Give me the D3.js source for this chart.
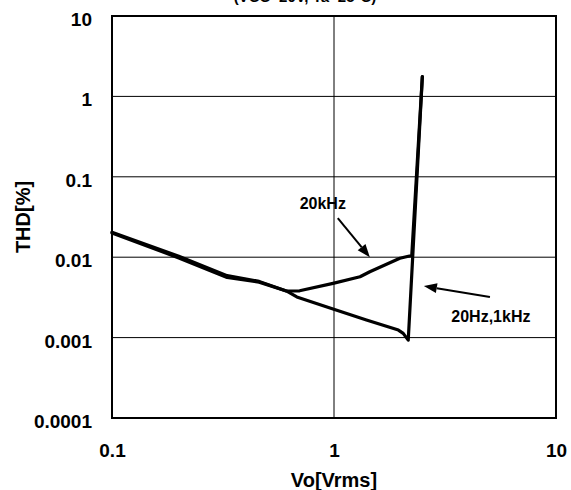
<!DOCTYPE html>
<html>
<head>
<meta charset="UTF-8">
<title>THD vs Vo</title>
<script src="https://d3js.org/d3.v7.min.js"></script>
<style>
  body { margin: 0; background: #fff; }
  text { font-family: "Liberation Sans", Arial, sans-serif; font-weight: bold; fill: #000; }
</style>
</head>
<body>
<svg id="mainsvg" width="571" height="490"></svg>
<script>
// data
const xTicks = [0.1, 1, 10];
const yTicks = [10, 1, 0.1, 0.01, 0.001, 0.0001];
const yTickLabels = ['10', '1', '0.1', '0.01', '0.001', '0.0001'];

const vo20Hz  = [0.1, 0.2, 0.33, 0.46, 0.61, 0.68, 0.99, 1.40, 1.95, 2.05, 2.16, 2.50];
const thd20Hz = [0.0200, 0.0098, 0.0056, 0.0049, 0.0038, 0.0032, 0.00227, 0.00166, 0.00124, 0.00113, 0.00093, 1.76];

const vo20k  = [0.1, 0.2, 0.33, 0.46, 0.61, 0.70, 0.99, 1.31, 1.45, 1.98, 2.24, 2.50];
const thd20k = [0.0205, 0.0103, 0.0059, 0.0050, 0.0038, 0.00382, 0.00473, 0.00572, 0.0066, 0.0097, 0.0105, 1.76];

const svg = d3.select('#mainsvg');
const margin = {top: 16, left: 112, right: 15, bottom: 72};
const innerWidth = 571 - margin.left - margin.right;
const innerHeight = 490 - margin.top - margin.bottom;

const xScale = d3.scaleLog().domain([0.1, 10]).range([0, innerWidth]);
const yScale = d3.scaleLog().domain([0.0001, 10]).range([innerHeight, 0]);

// partly hidden condition text at the very top
svg.append('text')
    .attr('x', 305).attr('y', 2)
    .attr('text-anchor', 'middle')
    .style('font-size', '15px')
    .text('(VCC=20V, Ta=25°C)');

const g = svg.append('g').attr('transform', `translate(${margin.left},${margin.top})`);

// grid
g.selectAll('.hgrid').data(yTicks).join('line')
    .attr('x1', 0).attr('x2', innerWidth)
    .attr('y1', d => yScale(d)).attr('y2', d => yScale(d))
    .attr('stroke', '#000').attr('stroke-width', 1);
g.selectAll('.vgrid').data(xTicks).join('line')
    .attr('y1', 0).attr('y2', innerHeight)
    .attr('x1', d => xScale(d)).attr('x2', d => xScale(d))
    .attr('stroke', '#000').attr('stroke-width', 1);

// frame
g.append('rect').attr('width', innerWidth).attr('height', innerHeight)
    .attr('fill', 'none').attr('stroke', '#000').attr('stroke-width', 2);

// axes (labels only)
const yAxis = d3.axisLeft(yScale).tickValues(yTicks)
    .tickFormat((d, i) => yTickLabels[i]).tickSize(0).tickPadding(20);
const yG = g.append('g').call(yAxis);
yG.select('.domain').remove();
yG.selectAll('text').style('font-size', '19px').attr('dy', '0.5em')
    .style('font-family', '"Liberation Sans", Arial, sans-serif').style('font-weight', 'bold');

const xAxis = d3.axisBottom(xScale).tickValues(xTicks)
    .tickFormat(d => d3.format('~g')(d)).tickSize(0).tickPadding(26);
const xG = g.append('g').attr('transform', `translate(0,${innerHeight})`).call(xAxis);
xG.select('.domain').remove();
xG.selectAll('text').style('font-size', '19px')
    .style('font-family', '"Liberation Sans", Arial, sans-serif').style('font-weight', 'bold');

g.append('text')
    .attr('x', innerWidth / 2).attr('y', innerHeight + 69)
    .attr('text-anchor', 'middle').style('font-size', '20px')
    .text('Vo[Vrms]');
g.append('text')
    .attr('transform', `translate(${-82},${innerHeight / 2}) rotate(-90)`)
    .attr('text-anchor', 'middle').style('font-size', '20px')
    .text('THD[%]');

// curves
const line = d3.line().x(d => xScale(d[0])).y(d => yScale(d[1]));
[[vo20Hz, thd20Hz], [vo20k, thd20k]].forEach(([xs, ys]) => {
    g.append('path')
        .datum(xs.map((x, i) => [x, ys[i]]))
        .attr('d', line)
        .attr('fill', 'none').attr('stroke', '#000')
        .attr('stroke-width', 3.2).attr('stroke-linejoin', 'round').attr('stroke-linecap', 'round');
});

// annotations
const arrow = function(x0, y0, x1, y1) {
    const px0 = xScale(x0), py0 = yScale(y0), px1 = xScale(x1), py1 = yScale(y1);
    const ang = Math.atan2(py1 - py0, px1 - px0);
    const len = 13, half = 5;
    const bx = px1 - len * Math.cos(ang), by = py1 - len * Math.sin(ang);
    g.append('line').attr('x1', px0).attr('y1', py0).attr('x2', bx).attr('y2', by)
        .attr('stroke', '#000').attr('stroke-width', 2);
    const pts = [[px1, py1],
        [bx + half * Math.sin(ang), by - half * Math.cos(ang)],
        [bx - half * Math.sin(ang), by + half * Math.cos(ang)]];
    g.append('polygon').attr('points', pts.map(p => p.join(',')).join(' ')).attr('fill', '#000');
};
arrow(1.04, 0.0307, 1.45, 0.0100);
arrow(5.04, 0.0032, 2.54, 0.00438);

g.append('text').attr('x', xScale(0.89)).attr('y', yScale(0.0398))
    .attr('text-anchor', 'middle').style('font-size', '16px').text('20kHz');
g.append('text').attr('x', xScale(5.09)).attr('y', yScale(0.00156))
    .attr('text-anchor', 'middle').style('font-size', '16px').text('20Hz,1kHz');
</script>
</body>
</html>
